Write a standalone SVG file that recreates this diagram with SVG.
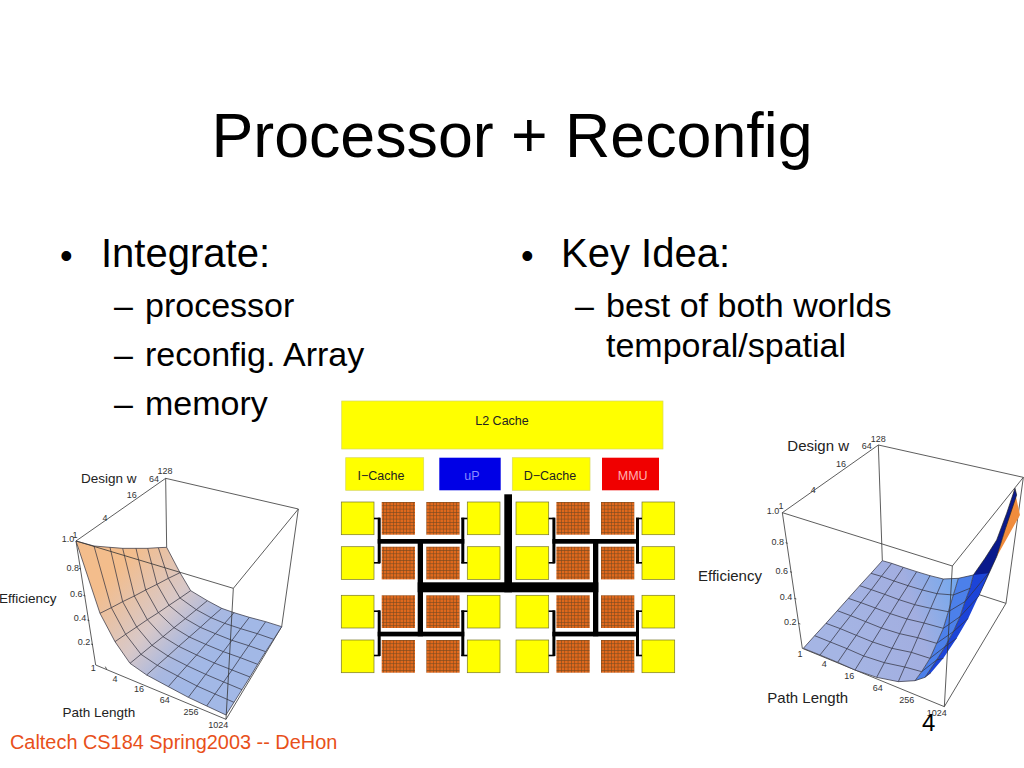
<svg xmlns="http://www.w3.org/2000/svg" xmlns:xlink="http://www.w3.org/1999/xlink" width="1024" height="768" viewBox="0 0 1024 768">
<style>
text{font-family:"Liberation Sans",Arial,sans-serif;fill:#000}
.t{font-size:40px}.s{font-size:34px}.d{font-size:36px}
.c{font-size:12.5px;text-anchor:middle;fill:#222}
.l{font-size:13.5px;fill:#222}
.r{font-size:15px;fill:#222}
.n{font-size:9px;text-anchor:middle;fill:#333}
.y{fill:#ffff00;stroke:#77772a;stroke-width:.7}
.yb{fill:#ffff00;stroke:#d8d860;stroke-width:.7}
.g{fill:none;stroke:#333340;stroke-width:2.2;stroke-linejoin:round}
.b{fill:none;stroke:#333;stroke-width:2.4}
.k{fill:#000}
.m{fill:url(#mesh)}
</style>
<defs>
<pattern id="mesh" width="3.33" height="3.33" patternUnits="userSpaceOnUse"><rect width="3.33" height="3.33" fill="#7a4a20"/><rect x=".6" y=".6" width="2.73" height="2.73" fill="#e0681c"/></pattern>
<linearGradient id="lg" gradientUnits="userSpaceOnUse" x1="330" y1="350" x2="620" y2="600"><stop offset="0" stop-color="#f3bd8c"/><stop offset=".5" stop-color="#d8c8c8"/><stop offset=".8" stop-color="#a9b8e0"/><stop offset="1" stop-color="#a2b8e6"/></linearGradient>
<linearGradient id="rg" gradientUnits="userSpaceOnUse" x1="400" y1="560" x2="800" y2="440"><stop offset="0" stop-color="#a5b5e4"/><stop offset=".6" stop-color="#a2aee0"/><stop offset="1" stop-color="#6fa8f0"/></linearGradient>
<g id="tiles"><rect class="y" x="341.3" y="0" width="32.7" height="32.7"/><rect class="m" x="381.7" y="0" width="33.3" height="32.7"/><rect class="m" x="426.3" y="0" width="33.3" height="32.7"/><rect class="y" x="467.3" y="0" width="32.7" height="32.7"/></g>
</defs>
<rect width="1024" height="768" fill="#fff"/>
<g id="title"><text x="512" y="157" font-size="62.700" text-anchor="middle">Processor + Reconfig</text></g>
<g id="left-text">
<text class="d" x="60" y="268">•</text><text class="t" x="101" y="267">Integrate:</text>
<text class="s" x="114" y="317">–</text><text class="s" x="145" y="317">processor</text>
<text class="s" x="114" y="366">–</text><text class="s" x="145" y="366">reconfig. Array</text>
<text class="s" x="114" y="415">–</text><text class="s" x="145" y="415">memory</text>
</g>
<g id="right-text">
<text class="d" x="521" y="268">•</text><text class="t" x="561" y="267">Key Idea:</text>
<text class="s" x="575" y="317">–</text><text class="s" x="606" y="317">best of both worlds</text>
<text class="s" x="606" y="357">temporal/spatial</text>
</g>

<g id="floorplan">
<g id="l2"><rect class="yb" x="341.700" y="401" width="321.300" height="48"/><text class="c" x="502" y="425">L2 Cache</text></g>
<g id="icache"><rect class="yb" x="345.700" y="457.700" width="78" height="32.600"/><text class="c" x="381" y="480">I−Cache</text></g>
<g id="up"><rect x="439.300" y="457.700" width="61.400" height="32.600" fill="#0000e6"/><text class="c" x="472" y="480" style="fill:#8a8aff">uP</text></g>
<g id="dcache"><rect class="yb" x="512.300" y="457.700" width="77.700" height="32.600"/><text class="c" x="550" y="480">D−Cache</text></g>
<g id="mmu"><rect x="602" y="457.700" width="57" height="32.600" fill="#f00000"/><text class="c" x="632.700" y="480" style="fill:#ffb0b0">MMU</text></g>
<g id="left-tiles">
<use xlink:href="#tiles" y="502"/><use xlink:href="#tiles" y="546.700"/><use xlink:href="#tiles" y="595.300"/><use xlink:href="#tiles" y="640"/>
</g>
<g id="right-tiles">
<g transform="translate(174.700 0)"><use xlink:href="#tiles" y="502"/><use xlink:href="#tiles" y="546.700"/><use xlink:href="#tiles" y="595.300"/><use xlink:href="#tiles" y="640"/></g>
</g>
<g id="network" class="k">
<rect x="504.300" y="494.300" width="7.700" height="98"/>
<rect x="417.700" y="582.300" width="180.600" height="10"/>
<rect x="417.700" y="539" width="5.300" height="97.300"/>
<rect x="593" y="539" width="5.300" height="97.300"/>
<g id="tl"><rect x="377.700" y="539" width="86.600" height="4.700"/><rect x="377.700" y="517.700" width="3" height="45.600"/><rect x="461.300" y="517.700" width="3" height="45.600"/><rect x="374" y="517.700" width="6" height="1.600"/><rect x="374" y="562" width="6" height="1.600"/><rect x="461.300" y="517.700" width="6" height="1.600"/><rect x="461.300" y="562" width="6" height="1.600"/></g>
<use xlink:href="#tl" x="0" y="92.700"/><use xlink:href="#tl" x="174.700"/><use xlink:href="#tl" x="174.700" y="92.700"/>
</g>
</g>

<g id="plot-left">
<g transform="translate(0 460) scale(.33333)">
<path class="b" d="M228 243L497 55L895 147L700 385M497 55L500 262M895 147L845 500M228 243L287 615L678 778L845 500"/>
<path fill="url(#lg)" d="M228 243L282 258 330 262 368 265 408 265 443 265 475 263 500 262 540 338 572 392 622 422 665 445 702 458 748 472 797 485 845 500 678 765 620 738 565 712 505 680 440 645 390 610 345 545 300 460Z"/>
<path class="g" d="M228 243L282 258 330 262 368 265 408 265 443 265 475 263 500 262M300 460L334 443 368 425 403 408 437 390 471 373 505 355 540 338M345 545L377 523 410 501 442 479 475 458 507 436 540 414 572 392M390 610L423 583 456 556 489 530 522 503 556 476 589 449 622 422M440 645L472 616 504 588 536 559 568 531 601 502 633 473 665 445M505 680L533 648 561 617 590 585 617 553 646 521 674 490 702 458M565 712L591 678 617 643 643 609 670 575 696 541 722 506 748 472M620 738L645 702 671 666 696 630 721 593 746 557 772 521 797 485M678 765L702 727 726 689 750 651 773 613 797 575 821 538 845 500"/>
<path class="g" d="M228 243L300 460 345 545 390 610 440 645 505 680 565 712 620 738 678 765M282 258L334 443 377 523 423 583 472 616 533 648 591 678 645 702 702 727M330 262L368 425 410 501 456 556 504 588 561 617 617 643 671 666 726 689M368 265L403 408 442 479 489 530 536 559 590 585 643 609 696 630 750 651M408 265L437 390 475 458 522 503 568 531 617 553 670 575 721 593 773 613M443 265L471 373 507 436 556 476 601 502 646 521 696 541 746 557 797 575M475 263L505 355 540 414 589 449 633 473 674 490 722 506 772 521 821 538M500 262L540 338 572 392 622 422 665 445 702 458 748 472 797 485 845 500"/>
<path class="b" d="M228 243L700 385L678 778M237 325l6 2M250 406l6 2M262 480l6 2M273 552l6 2M320 628l-4 -8"/>
</g>
<text class="l" x="81" y="483">Design w</text><text class="l" x="-1" y="602.700">Efficiency</text><text class="l" x="62.500" y="716.700">Path Length</text>
<text class="n" x="68" y="541.500">1.0</text><text class="n" x="75" y="538">1</text><text class="n" x="105" y="521">4</text><text class="n" x="131.700" y="498">16</text><text class="n" x="154" y="481.700">64</text><text class="n" x="165" y="474.300">128</text>
<text class="n" x="72.700" y="570.700">0.8</text><text class="n" x="76.300" y="596.700">0.6</text><text class="n" x="80" y="621">0.4</text><text class="n" x="84" y="644.700">0.2</text>
<text class="n" x="93.300" y="671">1</text><text class="n" x="115" y="682">4</text><text class="n" x="139" y="692">16</text><text class="n" x="164.700" y="703.300">64</text><text class="n" x="191" y="715">256</text><text class="n" x="218.300" y="727.700">1024</text>
</g>

<g id="plot-right">
<g transform="translate(695 430) scale(.33333)">
<path class="b" d="M262 248L550 45L985 142L772 408M262 248L772 408M550 45L562 392M985 142L933 520M840 490L933 520M262 248L322 655L748 830L933 520"/>
<path fill="#f08c3c" d="M958 178L975 255 905 380 930 300Z"/>
<path fill="#0a1a8c" stroke="#222" stroke-width="2" d="M835 435L870 385 905 330 935 250 960 175 965 195 930 300 905 380 850 500Z"/>
<path fill="#1c44d8" d="M690 742L708 728 745 685 785 625 820 565 850 500 880 430 835 435 825 475 810 515 795 560 775 605 750 650 725 690Z"/>
<path fill="#4c80ea" d="M660 752L690 742 725 690 750 650 775 605 795 560 810 515 825 475 835 435 790 445 775 495 760 545 745 595 725 640 705 685 680 725Z"/>
<path fill="url(#rg)" d="M325 655L562 392 590 400 625 412 665 425 705 437 745 447 790 445 775 495 760 545 745 595 725 640 705 685 680 725 660 752 610 755 545 742 480 720 428 697 375 675Z"/>
<path class="g" d="M325 655L359 617 393 580 427 542 460 505 494 467 528 430 562 392M375 675L406 636 436 596 467 557 498 518 529 479 559 439 590 400M428 697L456 656 484 616 512 575 541 534 569 493 597 453 625 412M480 720L506 678 533 636 559 594 586 551 612 509 639 467 665 425M545 742L568 698 591 655 614 611 636 567 659 524 682 480 705 437M610 755L629 711 649 667 668 623 687 579 707 535 726 491 745 447M660 752L680 725 705 685 725 640 745 595 760 545 775 495 790 445M690 742L725 690 750 650 775 605 795 560 810 515 825 475 835 435"/>
<path class="g" d="M325 655L375 675 428 697 480 720 545 742 610 755 660 752 690 742 708 728M359 617L406 636 456 656 506 678 568 698 629 711 680 725 725 690 745 685M393 580L436 596 484 616 533 636 591 655 649 667 705 685 750 650 785 625M427 542L467 557 512 575 559 594 614 611 668 623 725 640 775 605 820 565M460 505L498 518 541 534 586 551 636 567 687 579 745 595 795 560 850 500M494 467L529 479 569 493 612 509 659 524 707 535 760 545 810 515 880 430M528 430L559 439 597 453 639 467 682 480 726 491 775 495 825 475M562 392L590 400 625 412 665 425 705 437 745 447 790 445 835 435"/>
<path class="b" d="M772 408L748 830M272 338l6 2M285 425l6 2M298 505l6 2M310 580l6 2"/>
</g>
<text class="r" x="787.300" y="451">Design w</text><text class="r" x="698" y="580.700">Efficiency</text><text class="r" x="767.300" y="703.300">Path Length</text>
<text class="n" x="773" y="514">1.0</text><text class="n" x="781" y="509.300">1</text><text class="n" x="813.300" y="493.300">4</text><text class="n" x="841" y="466.700">16</text><text class="n" x="866.700" y="449.300">64</text><text class="n" x="878.300" y="441.700">128</text>
<text class="n" x="777.700" y="545">0.8</text><text class="n" x="781.700" y="573.700">0.6</text><text class="n" x="786" y="600.300">0.4</text><text class="n" x="790.300" y="625.300">0.2</text>
<text class="n" x="800" y="656.700">1</text><text class="n" x="824.300" y="667.300">4</text><text class="n" x="849.300" y="678.700">16</text><text class="n" x="877.700" y="691">64</text><text class="n" x="906.700" y="703.300">256</text><text class="n" x="936.700" y="716">1024</text>
</g>
<g id="footer">
<text x="10" y="749" font-size="19.900" style="fill:#e8501a">Caltech CS184 Spring2003 -- DeHon</text>
<text x="922" y="731" font-size="24">4</text>
</g>
</svg>
